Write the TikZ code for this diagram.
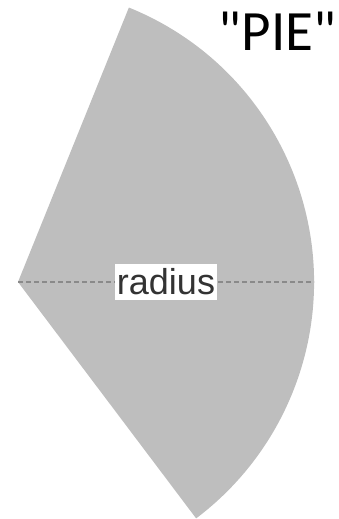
\documentclass[tikz,border=0pt]{standalone}
\usepackage{fontspec}
\setmainfont{Liberation Sans}
\newfontfamily\titlefont{Carlito}
\definecolor{piegray}{HTML}{BEBEBE}
\definecolor{dashgray}{HTML}{8A8A8A}
\definecolor{labelgray}{HTML}{333333}
\tikzset{
  piefill/.style={fill=piegray},
  radiusline/.style={draw=dashgray, line width=1.5pt, dash pattern=on 5pt off 3pt},
  radiuslabel/.style={fill=white, text=labelgray, font=\fontsize{36}{40}\selectfont, inner xsep=2pt, inner ysep=5pt},
  titlelabel/.style={font=\titlefont\fontsize{57}{62}\selectfont, text=black}
}
\begin{document}
\begin{tikzpicture}[x=1pt,y=1pt]
\useasboundingbox (0,0) rectangle (339,519);
\coordinate (apex) at (18,237);
\coordinate (rim) at (314,237);
\fill[piefill] (apex) -- ++(68:296) arc[start angle=68, end angle=-53, radius=296] -- cycle;
\draw[radiusline] (apex) -- (rim) node[midway, radiuslabel] (rad) {radius};
\node[titlelabel, anchor=center] (title) at (277.5,488) {"PIE"};
\end{tikzpicture}
\end{document}
